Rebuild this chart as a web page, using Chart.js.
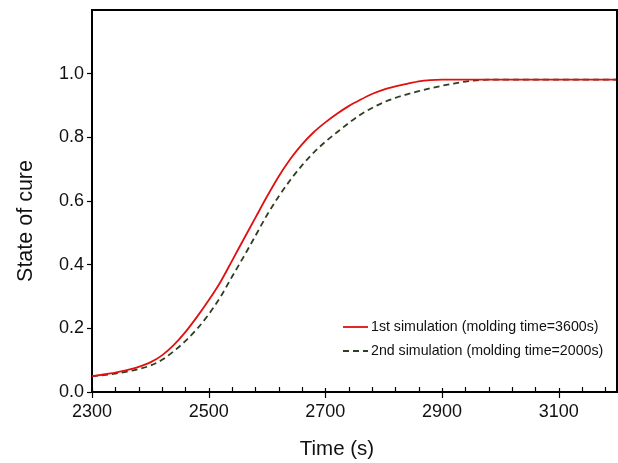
<!DOCTYPE html>
<html>
<head>
<meta charset="utf-8">
<script src="https://cdn.jsdelivr.net/npm/chart.js@4.4.1/dist/chart.umd.min.js"></script>
<style>
  html, body { margin: 0; padding: 0; background: #fff; }
  #wrap { width: 618px; height: 463px; }
</style>
</head>
<body>
<div id="wrap"><canvas id="graficaCura"></canvas></div>
<script>
// Tiempos (s) y estado de curado
const tiempos = [2300, 2320, 2340, 2360, 2380, 2400, 2420, 2440, 2460, 2480,
                 2500, 2520, 2540, 2560, 2580, 2600, 2620, 2640, 2660, 2680,
                 2700, 2720, 2740, 2760, 2780, 2800, 2820, 2840, 2860, 2880,
                 2900, 2920, 2940, 2960, 2980, 3000, 3050, 3100, 3150, 3200];

const primeraSim = [0.050, 0.055, 0.061, 0.069, 0.079, 0.093, 0.115, 0.147, 0.188, 0.236,
                    0.288, 0.345, 0.412, 0.480, 0.547, 0.614, 0.677, 0.732, 0.778, 0.816,
                    0.847, 0.874, 0.898, 0.918, 0.936, 0.950, 0.960, 0.968, 0.976, 0.980,
                    0.981, 0.981, 0.981, 0.981, 0.981, 0.981, 0.981, 0.981, 0.981, 0.981];

const segundaSim = [0.050, 0.053, 0.058, 0.064, 0.072, 0.083, 0.101, 0.128, 0.160, 0.198,
                    0.244, 0.298, 0.362, 0.425, 0.490, 0.556, 0.614, 0.666, 0.712, 0.752,
                    0.786, 0.816, 0.845, 0.871, 0.892, 0.910, 0.924, 0.935, 0.945, 0.954,
                    0.962, 0.969, 0.975, 0.979, 0.981, 0.981, 0.981, 0.981, 0.981, 0.981];

const etiquetasY = [0.0, 0.2, 0.4, 0.6, 0.8, 1.0];
const etiquetasX = [2300, 2500, 2700, 2900, 3100];

const nombres = ['1st simulation (molding time=3600s)', '2nd simulation (molding time=2000s)'];
const tituloX = 'Time (s)';
const tituloY = 'State of cure';

const puntos = serie => tiempos.map((t, i) => ({ x: t, y: serie[i] }));
const fuente = '"Liberation Sans", Arial, sans-serif';

// Marco, marcas del eje x, títulos y leyenda
const marcoPlugin = {
    id: 'marco',
    afterDraw(chart) {
        const { ctx, chartArea: a, scales } = chart;
        ctx.save();
        ctx.strokeStyle = '#000';
        ctx.lineWidth = 2;
        ctx.beginPath();
        ctx.moveTo(a.left, a.top);
        ctx.lineTo(a.right, a.top);
        ctx.lineTo(a.right, a.bottom);
        ctx.stroke();

        // marcas menores cada 40 s, mayores cada 200 s
        ctx.lineWidth = 1.2;
        for (let t = 2300; t <= 3200; t += 40) {
            const px = Math.round(scales.x.getPixelForValue(t)) + 0.5;
            ctx.beginPath();
            if (etiquetasX.includes(t)) {
                ctx.moveTo(px, a.bottom - 4);
                ctx.lineTo(px, a.bottom + 6);
            } else {
                ctx.moveTo(px, a.bottom - 5);
                ctx.lineTo(px, a.bottom);
            }
            ctx.stroke();
        }

        // títulos de ejes
        ctx.fillStyle = '#111';
        ctx.textAlign = 'center';
        ctx.textBaseline = 'alphabetic';
        ctx.font = '20.5px ' + fuente;
        ctx.fillText(tituloX, 337, 455);
        ctx.save();
        ctx.translate(32, 221);
        ctx.rotate(-Math.PI / 2);
        ctx.font = '21.5px ' + fuente;
        ctx.fillText(tituloY, 0, 0);
        ctx.restore();

        // leyenda
        ctx.font = '14.2px ' + fuente;
        ctx.textAlign = 'left';
        ctx.textBaseline = 'middle';
        chart.data.datasets.forEach((ds, i) => {
            const y = 327 + i * 24;
            ctx.strokeStyle = ds.borderColor;
            ctx.lineWidth = ds.borderWidth;
            ctx.setLineDash(ds.borderDash || []);
            ctx.beginPath();
            ctx.moveTo(343, y);
            ctx.lineTo(368, y);
            ctx.stroke();
            ctx.setLineDash([]);
            ctx.fillText(ds.label, 371, y);
        });
        ctx.restore();
    }
};

const ctx = document.getElementById('graficaCura').getContext('2d');
new Chart(ctx, {
    type: 'line',
    data: {
        datasets: [{
            label: nombres[0],
            data: puntos(primeraSim),
            borderColor: '#e01010',
            borderWidth: 1.8,
            pointRadius: 0,
            cubicInterpolationMode: 'monotone'
        }, {
            label: nombres[1],
            data: puntos(segundaSim),
            borderColor: '#2f3f22',
            borderWidth: 1.8,
            borderDash: [6, 4],
            pointRadius: 0,
            cubicInterpolationMode: 'monotone'
        }]
    },
    options: {
        responsive: true,
        maintainAspectRatio: false,
        animation: false,
        layout: { padding: { top: 10, right: 1, left: 0, bottom: 0 } },
        scales: {
            x: {
                type: 'linear',
                min: 2300,
                max: 3200,
                afterBuildTicks: scale => { scale.ticks = etiquetasX.map(v => ({ value: v })); },
                afterFit: scale => {
                    scale.height = 71;
                    scale.paddingLeft = 0;
                    scale.paddingRight = 0;
                },
                border: { display: true, color: '#000', width: 2 },
                grid: { display: false, drawTicks: false },
                ticks: {
                    padding: 9,
                    color: '#111',
                    font: { family: fuente, size: 18 },
                    maxRotation: 0,
                    autoSkip: false,
                    callback: v => String(v)
                }
            },
            y: {
                min: 0,
                max: 1.2,
                afterBuildTicks: scale => { scale.ticks = etiquetasY.map(v => ({ value: v })); },
                afterFit: scale => {
                    scale.width = 92;
                    scale.paddingTop = 0;
                    scale.paddingBottom = 0;
                },
                border: { display: true, color: '#000', width: 2 },
                grid: {
                    drawOnChartArea: false,
                    tickLength: 5,
                    tickWidth: 1.2,
                    tickColor: '#000'
                },
                ticks: {
                    padding: 3,
                    color: '#111',
                    font: { family: fuente, size: 18 },
                    callback: v => v.toFixed(1)
                }
            }
        },
        plugins: {
            legend: { display: false },
            tooltip: { enabled: false }
        }
    },
    plugins: [marcoPlugin]
});
</script>
</body>
</html>
